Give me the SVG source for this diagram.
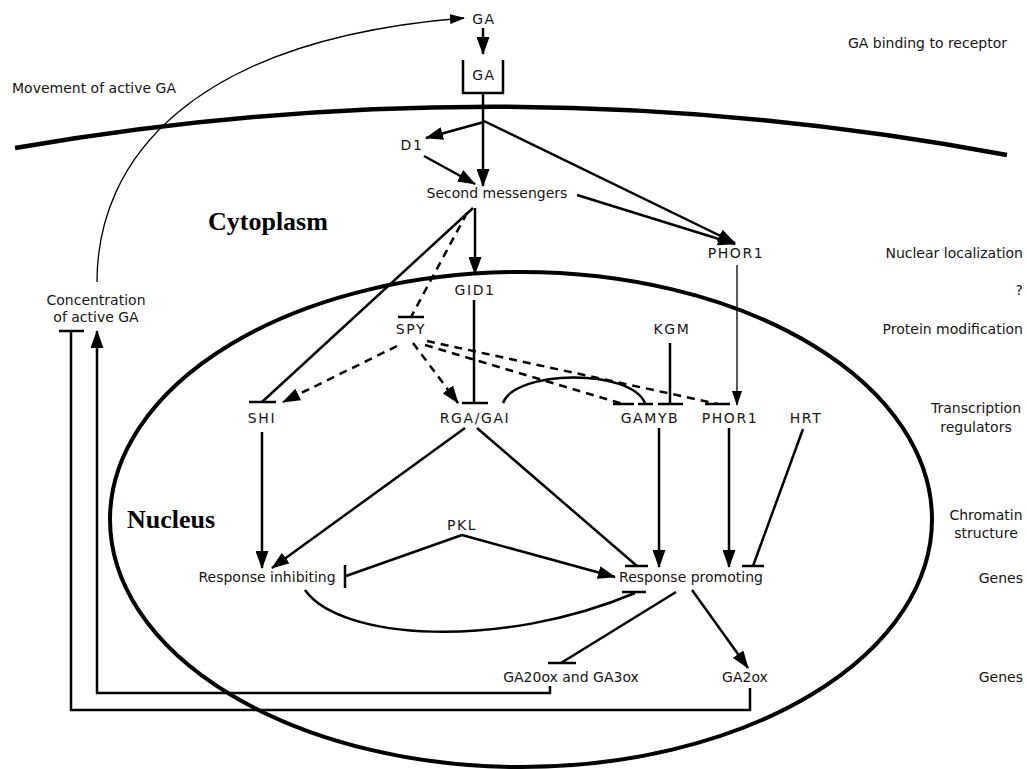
<svg xmlns="http://www.w3.org/2000/svg" width="1027" height="769" viewBox="0 0 1027 769">
<defs>
<style>
text{font-family:"DejaVu Sans","Liberation Sans",sans-serif;font-size:14px;fill:#151515}
.m{text-anchor:middle}
.caps{letter-spacing:1.6px}
.side{text-anchor:end}
.big{font-family:"Liberation Serif","DejaVu Serif",serif;font-size:26px;font-weight:bold;fill:#000}
.c{fill:none;stroke:#000;stroke-width:2.5}
.thin{stroke-width:1.3}
.dash{stroke-dasharray:8 6}
.bar{fill:none;stroke:#000;stroke-width:2.5}
.a{marker-end:url(#arr)}
.as{marker-end:url(#arrS)}
.membrane{fill:none;stroke:#000;stroke-width:4.5}
.nucleus{fill:none;stroke:#000;stroke-width:4}
</style>
<marker id="arr" markerWidth="18" markerHeight="13" refX="17" refY="6.5" orient="auto" markerUnits="userSpaceOnUse"><path d="M0,0 L18,6.5 L0,13 z" fill="#000"/></marker>
<marker id="arrS" markerWidth="15" markerHeight="10" refX="14" refY="5" orient="auto" markerUnits="userSpaceOnUse"><path d="M0,0 L15,5 L0,10 z" fill="#000"/></marker>
</defs>
<rect width="1027" height="769" fill="#fff"/>

<g id="compartments">
<path class="membrane" d="M15,148 Q511,62 1007,155"/>
<ellipse class="nucleus" cx="521" cy="519.5" rx="411" ry="247.5"/>
<text class="big" x="208" y="230">Cytoplasm</text>
<text class="big" x="127" y="528">Nucleus</text>
</g>

<g id="side-labels">
<text x="12" y="93">Movement of active GA</text>
<text class="side" x="1007" y="48">GA binding to receptor</text>
<text class="side" x="1023" y="258">Nuclear localization</text>
<text class="side" x="1023" y="295">?</text>
<text class="side" x="1023" y="334">Protein modification</text>
<text class="m" x="976" y="413">Transcription</text>
<text class="m" x="976" y="432">regulators</text>
<text class="m" x="986" y="520">Chromatin</text>
<text class="m" x="986" y="538">structure</text>
<text class="side" x="1023" y="583">Genes</text>
<text class="side" x="1023" y="682">Genes</text>
</g>

<g id="GA"><text class="m caps" x="484" y="24">GA</text></g>
<g id="receptor"><path class="bar" d="M463,60 V93 H503 V60"/><text class="m caps" x="484" y="80">GA</text></g>
<g id="D1"><text class="m caps" x="412" y="150">D1</text></g>
<g id="second-messengers"><text class="m" x="497" y="198">Second messengers</text></g>
<g id="PHOR1-cyt"><text class="m caps" x="736" y="258">PHOR1</text></g>
<g id="concentration"><text class="m" x="96" y="305">Concentration</text><text class="m" x="96" y="322">of active GA</text></g>
<g id="GID1"><text class="m caps" x="475" y="295">GID1</text></g>
<g id="SPY"><text class="m caps" x="411" y="334">SPY</text></g>
<g id="KGM"><text class="m caps" x="672" y="334">KGM</text></g>
<g id="SHI"><text class="m caps" x="262" y="423">SHI</text></g>
<g id="RGA-GAI"><text class="m caps" x="475" y="423">RGA/GAI</text></g>
<g id="GAMYB"><text class="m caps" x="650" y="423">GAMYB</text></g>
<g id="PHOR1-nuc"><text class="m caps" x="730" y="423">PHOR1</text></g>
<g id="HRT"><text class="m caps" x="806" y="423">HRT</text></g>
<g id="PKL"><text class="m caps" x="462" y="530">PKL</text></g>
<g id="response-inhibiting"><text class="m" x="267" y="582">Response inhibiting</text></g>
<g id="response-promoting"><text class="m" x="691" y="582">Response promoting</text></g>
<g id="GA20ox-GA3ox"><text class="m" x="571" y="682">GA20ox and GA3ox</text></g>
<g id="GA2ox"><text class="m" x="745" y="682">GA2ox</text></g>

<g id="connectors">
<path class="c thin as" d="M97,282 C97,160 190,40 464,18"/>
<line class="c a" x1="483" y1="28" x2="483" y2="54"/>
<line class="c" x1="483" y1="93" x2="483" y2="123"/>
<line class="c a" x1="484" y1="122" x2="426" y2="138"/>
<line class="c a" x1="483" y1="122" x2="483" y2="186"/>
<line class="c a" x1="484" y1="121" x2="735" y2="243"/>
<line class="c a" x1="424" y1="156" x2="475" y2="184"/>
<line class="c a" x1="577" y1="195" x2="735" y2="244"/>
<line class="c a" x1="475" y1="208" x2="475" y2="274"/>
<line class="c" x1="473" y1="208" x2="262" y2="402"/>
<line class="bar" x1="249" y1="402" x2="276" y2="402"/>
<line class="c dash" x1="467" y1="213" x2="411" y2="317"/>
<line class="bar" x1="398" y1="317" x2="424" y2="317"/>
<line class="c" x1="474" y1="300" x2="474" y2="403"/>
<line class="bar" x1="462" y1="403" x2="488" y2="403"/>
<line class="c dash a" x1="397" y1="346" x2="283" y2="402"/>
<line class="c dash a" x1="413" y1="343" x2="458" y2="403"/>
<line class="c dash" x1="425" y1="345" x2="623" y2="404"/>
<line class="bar" x1="613" y1="404" x2="634" y2="404"/>
<line class="c dash" x1="427" y1="341" x2="718" y2="404"/>
<line class="bar" x1="705" y1="404" x2="730" y2="404"/>
<path class="c" d="M503,403 C515,370 630,368 645,403"/>
<line class="bar" x1="638" y1="404" x2="653" y2="404"/>
<line class="c" x1="670" y1="343" x2="670" y2="404"/>
<line class="bar" x1="658" y1="404" x2="683" y2="404"/>
<line class="c thin as" x1="737" y1="265" x2="737" y2="405"/>
<line class="c a" x1="262" y1="432" x2="262" y2="568"/>
<line class="c a" x1="465" y1="428" x2="272" y2="568"/>
<line class="c" x1="477" y1="428" x2="637" y2="566"/>
<line class="bar" x1="625" y1="566" x2="648" y2="566"/>
<line class="c a" x1="659" y1="428" x2="659" y2="567"/>
<line class="c a" x1="729" y1="428" x2="729" y2="567"/>
<line class="c" x1="803" y1="429" x2="753" y2="566"/>
<line class="bar" x1="742" y1="566" x2="764" y2="566"/>
<line class="c" x1="462" y1="535" x2="346" y2="576"/>
<line class="bar" x1="345" y1="565" x2="345" y2="588"/>
<line class="c a" x1="462" y1="535" x2="615" y2="577"/>
<path class="c" d="M305,590 C340,640 500,650 635,593"/>
<line class="bar" x1="622" y1="592" x2="646" y2="592"/>
<line class="c" x1="676" y1="592" x2="561" y2="663"/>
<line class="bar" x1="548" y1="663" x2="576" y2="663"/>
<line class="c a" x1="692" y1="590" x2="748" y2="668"/>
<polyline class="c a" points="550,686 550,693 97,693 97,331"/>
<polyline class="c" points="750,688 750,710 71,710 71,331"/>
<line class="bar" x1="59" y1="331" x2="84" y2="331"/>
</g>
</svg>
